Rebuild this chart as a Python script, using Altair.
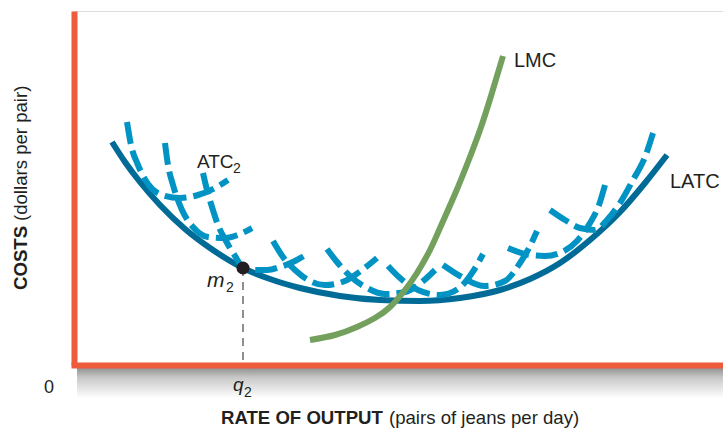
import altair as alt
import pandas as pd

FONT = "Liberation Sans"
INK = "#231f20"
PEACH = "#fce2b2"
AXIS_RED = "#ee5b3c"
LATC_BLUE = "#006b96"
ATC_BLUE = "#0093c4"
LMC_GREEN = "#74a05e"

# ---- long-run curves: output q (pairs per day) and cost c (dollars per pair) ----
latc_q = [38, 51, 66, 86, 111, 136, 169, 196, 226, 266, 306, 346, 386, 426, 456, 486, 516, 546, 571, 593]
latc_c = [223, 203, 183, 160, 136, 117, 97, 86, 77, 69, 65, 64, 67, 75, 86, 102, 125, 153, 182, 210]

lmc_q = [236, 261, 283, 301, 316, 331, 343, 356, 366, 381, 394, 406, 417, 429]
lmc_c = [25, 30, 38, 47, 58, 75, 92, 115, 137, 171, 203, 235, 269, 309]

# ---- short-run average total cost curves, left to right ----
atc1_q = [53, 57, 64, 74, 88, 106, 124, 141, 154]
atc1_c = [243, 220, 200, 181, 170, 167, 170, 177, 185]
atc2_q = [91, 94, 99, 108, 119, 134, 151, 166, 178]
atc2_c = [222, 200, 180, 155, 138, 128, 127, 131, 137]
atc3_q = [129, 133, 138, 144, 152, 161, 169, 180, 193, 206, 221, 233]
atc3_c = [192, 175, 158, 140, 124, 109, 98, 95, 95, 98, 104, 111]
atc4_q = [199, 209, 221, 236, 251, 271, 288, 303]
atc4_c = [124, 108, 95, 84, 80, 84, 95, 107]
atc5_q = [253, 263, 276, 293, 311, 331, 348, 361]
atc5_c = [116, 103, 89, 77, 71, 73, 83, 95]
atc6_q = [314, 326, 344, 366, 384, 398, 409]
atc6_c = [99, 87, 75, 70, 76, 92, 111]
atc7_q = [369, 386, 411, 431, 446, 456, 463]
atc7_c = [100, 89, 79, 84, 102, 119, 134]
atc8_q = [434, 451, 471, 488, 503, 516, 525, 531]
atc8_c = [117, 111, 109, 113, 124, 142, 160, 180]
atc9_q = [476, 491, 506, 521, 533, 546, 559, 571, 579]
atc9_c = [155, 145, 137, 135, 145, 162, 185, 208, 232]

atc_sets = [
    ("ATC1", atc1_q, atc1_c), ("ATC2", atc2_q, atc2_c), ("ATC3", atc3_q, atc3_c),
    ("ATC4", atc4_q, atc4_c), ("ATC5", atc5_q, atc5_c), ("ATC6", atc6_q, atc6_c),
    ("ATC7", atc7_q, atc7_c), ("ATC8", atc8_q, atc8_c), ("ATC9", atc9_q, atc9_c),
]

# point m2 on the envelope at output q2
m2_q = [169]
m2_c = [97]

latc_df = pd.DataFrame({"q": latc_q, "c": latc_c})
lmc_df = pd.DataFrame({"q": lmc_q, "c": lmc_c})
atc_df = pd.concat(
    [pd.DataFrame({"q": q, "c": c, "curve": name}) for name, q, c in atc_sets],
    ignore_index=True,
)
m2_df = pd.DataFrame({"q": m2_q, "c": m2_c, "c0": [3]})

xs = alt.Scale(domain=[0, 649], nice=False, zero=False)
ys = alt.Scale(domain=[0, 354], nice=False, zero=False)

X = alt.X("q:Q", scale=xs, axis=alt.Axis(
    domain=True, domainColor=AXIS_RED, domainWidth=6, domainCap="square",
    ticks=False, labels=False, grid=False, title=None, zindex=1))
Y = alt.Y("c:Q", scale=ys, axis=alt.Axis(
    domain=True, domainColor=AXIS_RED, domainWidth=6,
    ticks=False, labels=False, grid=False, title=None, zindex=1))

# soft shadow under the output axis
shadow_df = pd.DataFrame({"q": [3], "q2": [649], "c": [-2], "c2": [-33]})
shadow = alt.Chart(shadow_df).mark_rect(
    color=alt.LinearGradient(
        gradient="linear",
        stops=[alt.GradientStop(color="#8c8c8c", offset=0),
               alt.GradientStop(color="#c9c9c9", offset=0.35),
               alt.GradientStop(color="#ffffff", offset=1)],
        x1=0, x2=0, y1=0, y2=1),
).encode(x=alt.X("q:Q", scale=xs), x2="q2:Q", y=alt.Y("c:Q", scale=ys), y2="c2:Q")

atc = alt.Chart(atc_df).mark_line(
    color=ATC_BLUE, strokeWidth=6, strokeDash=[22, 7], strokeCap="butt",
    interpolate="monotone",
).encode(x=X, y=Y, detail="curve:N")

latc = alt.Chart(latc_df).mark_line(
    color=LATC_BLUE, strokeWidth=6, strokeCap="butt", interpolate="monotone",
).encode(x=alt.X("q:Q", scale=xs), y=alt.Y("c:Q", scale=ys))

lmc = alt.Chart(lmc_df).mark_line(
    color=LMC_GREEN, strokeWidth=6, strokeCap="butt", interpolate="natural",
).encode(x=alt.X("q:Q", scale=xs), y=alt.Y("c:Q", scale=ys))

drop = alt.Chart(m2_df).mark_rule(
    color="#6b6b6b", strokeWidth=1.5, strokeDash=[8, 6],
).encode(x=alt.X("q:Q", scale=xs), y=alt.Y("c:Q", scale=ys), y2="c0:Q")

dot = alt.Chart(m2_df).mark_circle(size=170, color=INK, opacity=1).encode(
    x=alt.X("q:Q", scale=xs), y=alt.Y("c:Q", scale=ys))


def label(q, c, text, size, weight="normal", style="normal", align="left",
          baseline="alphabetic", angle=0):
    df = pd.DataFrame({"q": [q], "c": [c], "t": [text]})
    kw = dict(font=FONT, fontSize=size, fontWeight=weight, fontStyle=style,
              align=align, baseline=baseline, color=INK)
    if angle:
        kw["angle"] = angle
    return alt.Chart(df).mark_text(**kw).encode(
        x=alt.X("q:Q", scale=xs), y=alt.Y("c:Q", scale=ys), text="t:N")


texts = [
    label(440, 298, "LMC", 20),
    label(596, 177, "LATC", 20),
    label(123, 197, "ATC", 19),
    label(159, 192, "2", 14),
    label(133, 78, "m", 21, style="italic"),
    label(152, 73, "2", 14),
    label(-25, -28, "0", 18, align="center"),
    label(159, -25.5, "q", 19, style="italic"),
    label(170, -32, "2", 14),
    label(147, -59, "RATE OF OUTPUT", 18.6, weight="bold"),
    label(315, -59, "(pairs of jeans per day)", 18.6),
    label(-47, 75, "COSTS", 18.6, weight="bold", angle=270),
    label(-47, 144, "(dollars per pair)", 18.6, angle=270),
]

chart = alt.layer(shadow, latc, atc, lmc, drop, dot, *texts).properties(
    width=649, height=354,
    autosize=alt.AutoSizeParams(type="none"),
    padding={"left": 74, "top": 11, "right": 0, "bottom": 65},
).configure_view(stroke=None, fill=PEACH).configure(background="#ffffff")

chart.save("out.html", embed_options={"renderer": "svg", "actions": False})
